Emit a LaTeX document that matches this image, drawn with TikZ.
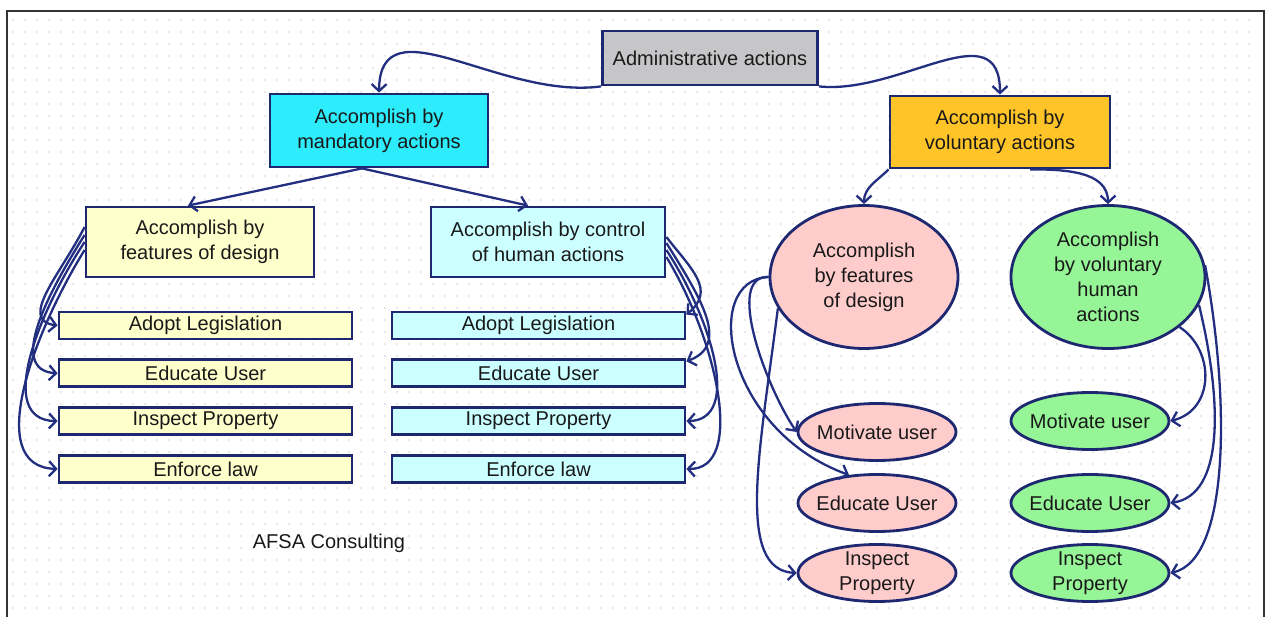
\documentclass[tikz,border=0pt]{standalone}
\usepackage{fontspec}
\setmainfont{Liberation Sans}
\usetikzlibrary{arrows.meta,positioning,shapes.geometric}
\definecolor{navy}{RGB}{30,40,112}
\definecolor{linkblue}{RGB}{34,46,128}
\definecolor{admgray}{RGB}{198,198,200}
\definecolor{mandcyan}{RGB}{45,236,252}
\definecolor{volorange}{RGB}{255,196,40}
\definecolor{paleyellow}{RGB}{255,255,204}
\definecolor{palecyan}{RGB}{204,255,255}
\definecolor{ovalpink}{RGB}{255,204,204}
\definecolor{ovalgreen}{RGB}{150,245,150}
\tikzset{>={Straight Barb[length=7pt,width=15pt]}}
\tikzset{every node/.style={font=\fontsize{20}{25}\selectfont,text=black!90}}

\begin{document}
\begin{tikzpicture}[x=1pt,y=1pt,node distance=18pt,
    box/.style={draw=navy,line width=2.8pt,minimum height=70pt,align=center,inner sep=0pt},
    item/.style={draw=navy,line width=2.8pt,fill=#1,minimum width=293pt,minimum height=27pt,inner sep=0pt},
    oval/.style={ellipse,draw=navy,line width=2.8pt,inner sep=0pt,align=center},
    small/.style={oval,minimum width=158pt,minimum height=57pt,label={[align=center]center:#1}},
    link/.style={->,draw=linkblue,line width=2.3pt},
    dotrow/.style={black!9,line width=1.6pt,dash pattern=on 1.6pt off 10.4pt}]
    \useasboundingbox (0,0) rectangle (1267,-617);
    \foreach \y in {20,32,...,616}
        \draw[dotrow] (12,-\y) -- (1260,-\y);
    \draw[line width=2pt,black!80] (7,-11) rectangle (1264,-640);

    \node[box,fill=admgray,minimum width=215pt,minimum height=54pt] (admin) at (710,-58) {Administrative actions};
    \node[box,fill=mandcyan,minimum width=218pt,minimum height=73pt] (mand) at (379,-130.5) {Accomplish by\\mandatory actions};
    \node[box,fill=volorange,minimum width=220pt,minimum height=72pt] (vol) at (1000,-132) {Accomplish by\\voluntary actions};
    \node[box,fill=paleyellow,minimum width=228pt] (feat) at (200,-242) {Accomplish by\\features of design};
    \node[box,fill=palecyan,minimum width=234pt] (ctrl) at (548,-242) {Accomplish by control\\of human actions};

    \node[item=paleyellow] (fadopt) at (205.5,-325.5) {Adopt Legislation};
    \node[item=paleyellow,below=of fadopt] (feduc) {Educate User};
    \node[item=paleyellow,below=of feduc] (finsp) {Inspect Property};
    \node[item=paleyellow,below=of finsp] (fenf) {Enforce law};

    \node[item=palecyan] (cadopt) at (538.5,-325.5) {Adopt Legislation};
    \node[item=palecyan,below=of cadopt] (ceduc) {Educate User};
    \node[item=palecyan,below=of ceduc] (cinsp) {Inspect Property};
    \node[item=palecyan,below=of cinsp] (cenf) {Enforce law};

    \node[oval,fill=ovalpink,minimum width=188pt,minimum height=143pt] (vfeat) at (864,-277) {Accomplish\\by features\\of design};
    \node[oval,fill=ovalgreen,minimum width=194pt,minimum height=143pt] (vhum) at (1108,-277) {Accomplish\\by voluntary\\human\\actions};

    \node[small={Motivate user},fill=ovalpink] (pmot) at (877,-432) {};
    \node[small={Educate User},fill=ovalpink] (pedu) at (877,-503) {};
    \node[small={Inspect\\Property},fill=ovalpink] (pins) at (877,-573) {};
    \node[small={Motivate user},fill=ovalgreen] (gmot) at (1090,-421) {};
    \node[small={Educate User},fill=ovalgreen] (gedu) at (1090,-503) {};
    \node[small={Inspect\\Property},fill=ovalgreen] (gins) at (1090,-573) {};

    \node (afsa) at (329,-543) {AFSA Consulting};

    \draw[link] (admin.south west) .. controls (500,-100) and (380,0) .. (mand.north);
    \draw[link] (admin.south east) .. controls (900,-95) and (1000,-10) .. (vol.north);
    \draw[link] ([xshift=-17pt]mand.south) -- ([xshift=-12pt]feat.north);
    \draw[link] ([xshift=-17pt]mand.south) -- ([xshift=-20pt]ctrl.north);
    \draw[link] (vol.south west) to[out=225,in=90] (vfeat.north);
    \draw[link] ([xshift=30pt]vol.south) to[out=0,in=90] (vhum.north);

    \draw[link] ([yshift=15pt]feat.west) .. controls (60,-275) and (18,-320) .. (fadopt.west);
    \draw[link] ([yshift=7pt]feat.west) .. controls (50,-290) and (6,-370) .. (feduc.west);
    \draw[link] (feat.west) .. controls (40,-310) and (-6,-420) .. (finsp.west);
    \draw[link] ([yshift=-8pt]feat.west) .. controls (35,-330) and (-18,-467) .. (fenf.west);

    \draw[link] ([yshift=5pt]ctrl.east) .. controls (692,-270) and (716,-290) .. ([yshift=-4pt]cadopt.north east);
    \draw[link] ([yshift=-1pt]ctrl.east) .. controls (702,-300) and (730,-345) .. ([yshift=-3pt]ceduc.north east);
    \draw[link] ([yshift=-8pt]ctrl.east) .. controls (712,-320) and (742,-420) .. (cinsp.east);
    \draw[link] ([yshift=-15pt]ctrl.east) .. controls (717,-340) and (746,-470) .. (cenf.east);

    \draw[link] (vfeat.west) .. controls (725,-275) and (765,-385) .. (pmot.west);
    \draw[link] (vfeat.west) .. controls (700,-280) and (725,-430) .. (pedu.135);
    \draw[link] (vfeat.200) .. controls (760,-450) and (735,-570) .. (pins.west);

    \draw[link] (vhum.-35) .. controls (1215,-350) and (1215,-410) .. (gmot.east);
    \draw[link] (vhum.-17) .. controls (1222,-400) and (1225,-495) .. (gedu.east);
    \draw[link] (vhum.7) .. controls (1230,-400) and (1230,-560) .. (gins.east);
\end{tikzpicture}
\end{document}
